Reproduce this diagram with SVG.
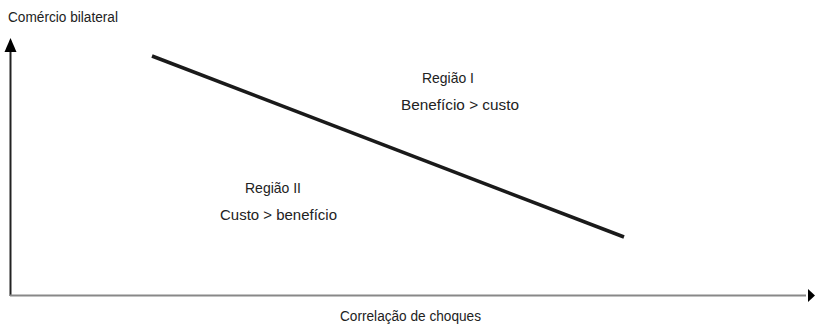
<svg xmlns="http://www.w3.org/2000/svg" width="815" height="328" viewBox="0 0 815 328">
<style>
text { font-family: "Liberation Sans", Arial, sans-serif; font-size: 15px; fill: #222; }
.s { font-size: 14px; }
</style>
<rect width="815" height="328" fill="#fff"/>
<g id="connectors">
<line x1="10.5" y1="50" x2="10.5" y2="296" stroke="#222" stroke-width="2"/>
<line x1="10" y1="295.5" x2="806" y2="295.5" stroke="#888" stroke-width="2"/>
<polygon points="10.5,38 4.5,52 16.5,52" fill="#000"/>
<polygon points="815,295.5 808,289 808,302" fill="#000"/>
</g>
<g id="trend">
<line x1="152" y1="56" x2="624" y2="237" stroke="#1a1a1a" stroke-width="3.5"/>
</g>
<g id="yaxis-label"><text class="s" x="8" y="22" textLength="110" lengthAdjust="spacingAndGlyphs">Comércio bilateral</text></g>
<g id="xaxis-label"><text class="s" x="340" y="321" textLength="141" lengthAdjust="spacingAndGlyphs">Correlação de choques</text></g>
<g id="region1">
<text x="422" y="83" textLength="52" lengthAdjust="spacingAndGlyphs">Região I</text>
<text x="401" y="110" textLength="118" lengthAdjust="spacingAndGlyphs">Benefício &gt; custo</text>
</g>
<g id="region2">
<text x="245" y="193" textLength="56" lengthAdjust="spacingAndGlyphs">Região II</text>
<text x="220" y="220" textLength="117" lengthAdjust="spacingAndGlyphs">Custo &gt; benefício</text>
</g>
</svg>
